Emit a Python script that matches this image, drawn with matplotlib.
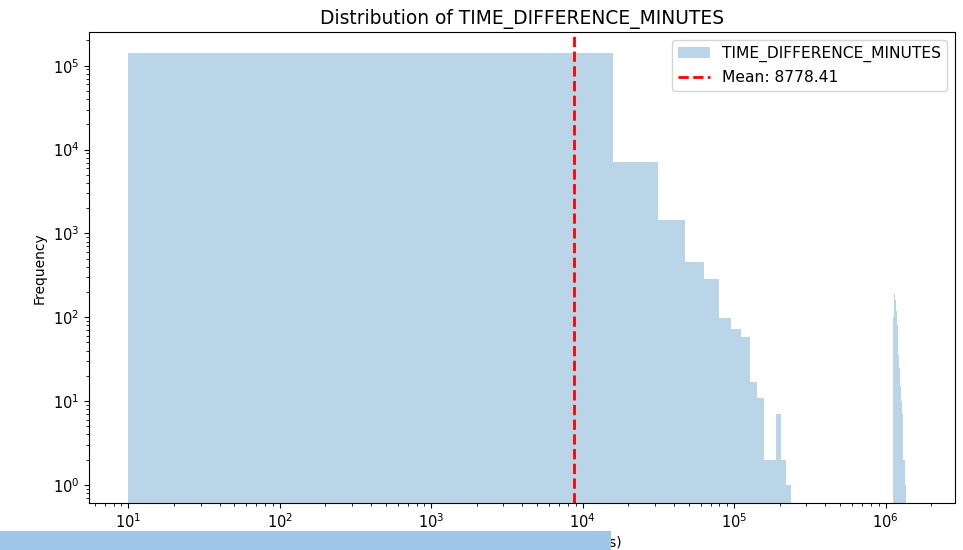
import numpy as np
import matplotlib
matplotlib.use('Agg')
import matplotlib.pyplot as plt
import matplotlib.patches as mpatches

# histogram of TIME_DIFFERENCE_MINUTES, 100 equal-width bins
data_min = 10.0
data_max = 1.58e6
n_bins = 100
mean_val = 8778.41

# counts per bin (log y)
counts_head = [142000, 7100, 1450, 450, 285, 99, 72, 58, 17, 11, 2, 2, 7, 2, 1]
spike_start = 71
counts_spike = [100, 190, 160, 120, 80, 60, 35, 25, 15, 10, 7, 5, 2, 2, 1, 1]

counts = np.zeros(n_bins)
counts[:len(counts_head)] = counts_head
counts[spike_start:spike_start + len(counts_spike)] = counts_spike
edges = np.linspace(data_min, data_max, n_bins + 1)

fig = plt.figure(figsize=(9.63, 5.5), dpi=100)
ax = fig.add_axes([0.0924, 0.0855, 0.8993, 0.8558])

ax.hist(edges[:-1], bins=edges, weights=counts, color='C0', alpha=0.3,
        label='TIME_DIFFERENCE_MINUTES', log=True)
ax.axvline(mean_val, color='red', linestyle='--', linewidth=2,
           label=f'Mean: {mean_val:.2f}')

ax.set_xscale('log')
ax.set_ylim(0.61, 2.5e5)
ax.tick_params(labelsize=10.5)
ax.set_title('Distribution of TIME_DIFFERENCE_MINUTES', fontsize=13.4)
ax.set_xlabel('Time Difference (in minutes)', fontsize=10, labelpad=3)
ax.set_ylabel('Frequency')
ax.legend(loc='upper right', fontsize=11.2)

# the bar that covers the lower left of the screenshot
fig.add_artist(mpatches.Rectangle((0, 0), 611 / 963, 19 / 550, transform=fig.transFigure,
                                  facecolor='#9fc5e8', edgecolor='none', zorder=10))

fig.savefig('out.png', dpi=100)
